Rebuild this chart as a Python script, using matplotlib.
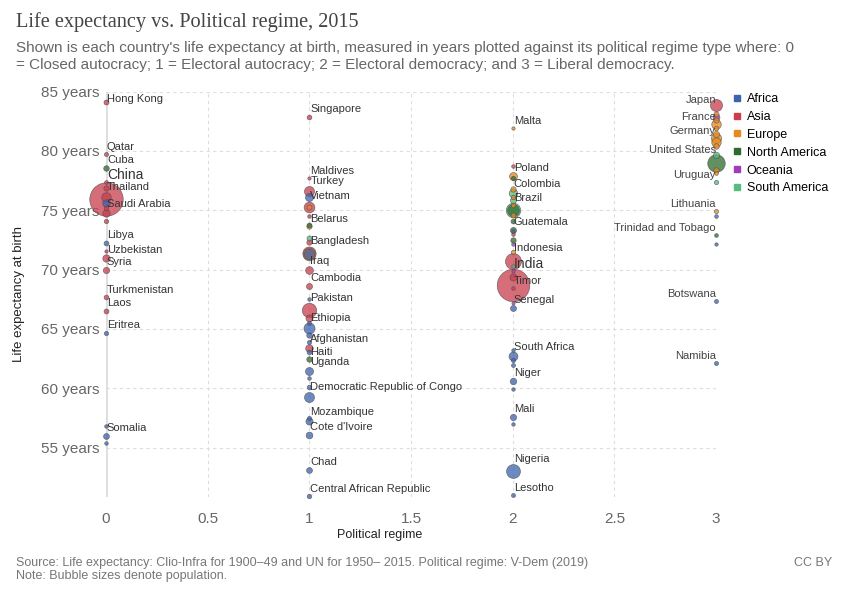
import matplotlib
matplotlib.use("Agg")
import matplotlib.pyplot as plt
from matplotlib.lines import Line2D

# political regime: 0 closed autocracy, 1 electoral autocracy, 2 electoral democracy, 3 liberal democracy
countries = [
    "Hong Kong", "Qatar", "Cuba", "Bahrain", "United Arab Emirates", "China", "Thailand", "Morocco",
    "Oman", "Saudi Arabia", "Kuwait", "Libya", "Brunei", "Uzbekistan", "Syria", "Turkmenistan",
    "Laos", "Eritrea", "Eswatini", "Somalia", "South Sudan",
    "Singapore", "Maldives", "Turkey", "Algeria", "Vietnam", "Serbia", "Jordan", "Belarus",
    "Nicaragua", "Paraguay", "Azerbaijan", "Bangladesh", "Russia", "Egypt", "Iraq", "Cambodia",
    "Djibouti", "Pakistan", "Yemen", "Ethiopia", "Gabon", "Rwanda", "Togo", "Afghanistan", "Congo",
    "Haiti", "Uganda", "Burundi", "Zimbabwe", "Democratic Republic of Congo", "Burkina Faso",
    "Mozambique", "Cote d'Ivoire", "Chad", "Central African Republic",
    "Malta", "Lebanon", "Poland", "Panama", "Hungary", "Colombia", "Croatia", "Ecuador", "Brazil",
    "Mexico", "Romania", "Bulgaria", "El Salvador", "Guatemala", "Tunisia", "Armenia",
    "Dominican Republic", "Fiji", "Moldova", "Indonesia", "India", "Guyana", "Solomon Islands",
    "Nepal", "Timor", "Vanuatu", "Senegal", "Comoros", "South Africa", "Madagascar", "Malawi",
    "Niger", "Liberia", "Mali", "Guinea-Bissau", "Nigeria", "Lesotho",
    "Japan", "Switzerland", "Australia", "Sweden", "France", "Norway", "Netherlands", "Germany",
    "United Kingdom", "Belgium", "Chile", "United States", "Czech Republic", "Estonia", "Uruguay",
    "Lithuania", "Mauritius", "Trinidad and Tobago", "Cape Verde", "Botswana", "Namibia",
]
regime = [0] * 21 + [1] * 35 + [2] * 37 + [3] * 21
life_exp = [
    84.1, 79.75, 78.55, 77.4, 76.85, 75.95, 76.15, 75.65, 75.2, 74.8, 74.1, 72.25, 71.55, 70.95,
    70.0, 67.7, 66.55, 64.7, 56.85, 55.95, 55.4,
    82.9, 77.75, 76.6, 76.1, 75.3, 75.3, 74.5, 73.65, 73.75, 72.65, 72.3, 71.4, 71.3, 71.35,
    69.95, 68.65, 67.5, 66.6, 65.9, 65.05, 65.5, 64.5, 63.9, 63.4, 63.1, 62.45, 61.45, 60.9,
    60.1, 59.3, 57.5, 57.25, 56.05, 53.1, 50.9,
    81.95, 78.75, 77.85, 77.75, 76.8, 76.45, 76.15, 75.9, 75.0, 75.0, 75.45, 74.6, 74.1, 73.3,
    73.25, 73.0, 72.5, 72.15, 71.5, 70.75, 68.7, 70.3, 69.9, 69.4, 68.45, 67.2, 66.8, 63.25,
    62.7, 62.4, 62.0, 60.6, 59.95, 57.55, 57.0, 53.05, 51.05,
    83.85, 83.1, 82.85, 82.6, 82.3, 81.95, 81.4, 81.05, 80.75, 80.4, 79.65, 78.95, 78.4, 78.1,
    77.4, 74.95, 74.55, 72.9, 72.15, 67.35, 62.1,
]
region = [
    "Asia", "Asia", "North America", "Asia", "Asia", "Asia", "Asia", "Africa", "Asia", "Asia",
    "Asia", "Africa", "Asia", "Asia", "Asia", "Asia", "Asia", "Africa", "Africa", "Africa", "Africa",
    "Asia", "Asia", "Asia", "Africa", "Asia", "Europe", "Asia", "Europe", "North America",
    "South America", "Asia", "Asia", "Europe", "Africa", "Asia", "Asia", "Africa", "Asia", "Asia",
    "Africa", "Africa", "Africa", "Africa", "Asia", "Africa", "North America", "Africa", "Africa",
    "Africa", "Africa", "Africa", "Africa", "Africa", "Africa", "Africa",
    "Europe", "Asia", "Europe", "North America", "Europe", "South America", "Europe",
    "South America", "South America", "North America", "Europe", "Europe", "North America",
    "North America", "Africa", "Asia", "North America", "Oceania", "Europe", "Asia", "Asia",
    "South America", "Oceania", "Asia", "Asia", "Oceania", "Africa", "Africa", "Africa", "Africa",
    "Africa", "Africa", "Africa", "Africa", "Africa", "Africa", "Africa",
    "Asia", "Europe", "Oceania", "Europe", "Europe", "Europe", "Europe", "Europe", "Europe",
    "Europe", "South America", "North America", "Europe", "Europe", "South America", "Europe",
    "Africa", "North America", "Africa", "Africa", "Africa",
]
# population in millions
population = [
    7.3, 2.5, 11.3, 1.4, 9.2, 1397, 68, 34, 4.3, 31.5, 3.8, 6.4, 0.4, 31, 18, 5.6, 6.7, 3.3, 1.1,
    13.8, 0.9,
    5.5, 0.4, 78, 40, 93, 7, 1, 9.5, 6.2, 6.6, 9.6, 161, 144, 92, 36, 15.5, 0.9, 199, 27, 100, 2,
    11, 3, 34, 5, 10.7, 40, 1, 5, 76, 3, 28, 23, 14, 4.5,
    0.45, 1, 38, 4, 9.8, 48, 4.2, 16, 205, 125, 5, 7, 6.3, 16, 0.5, 1, 10, 0.9, 3.5, 258, 1310,
    0.8, 0.6, 28, 1.2, 0.3, 15, 0.8, 55, 3, 2, 20, 0.8, 17.5, 0.8, 181, 2.1,
    127, 8.3, 24, 9.8, 66, 5.2, 17, 81, 65, 11, 18, 320, 10.5, 1.3, 3.4, 2.9, 1.3, 1.4, 0.5, 2.2,
    2.4,
]
labelled = [
    "Hong Kong", "Qatar", "Cuba", "China", "Thailand", "Saudi Arabia", "Libya", "Uzbekistan",
    "Syria", "Turkmenistan", "Laos", "Eritrea", "Somalia",
    "Singapore", "Maldives", "Turkey", "Vietnam", "Belarus", "Bangladesh", "Iraq", "Cambodia",
    "Pakistan", "Ethiopia", "Afghanistan", "Haiti", "Uganda", "Democratic Republic of Congo",
    "Mozambique", "Cote d'Ivoire", "Chad", "Central African Republic",
    "Malta", "Poland", "Colombia", "Brazil", "Guatemala", "Indonesia", "India", "Timor",
    "Senegal", "South Africa", "Niger", "Mali", "Nigeria", "Lesotho",
    "Japan", "France", "Germany", "United States", "Uruguay", "Lithuania", "Trinidad and Tobago",
    "Botswana", "Namibia",
]
region_names = ["Africa", "Asia", "Europe", "North America", "Oceania", "South America"]
region_colors = ["#3d63ae", "#c93d4d", "#e8891e", "#2e6b2e", "#a23bb9", "#57bc7e"]
ytick_vals = [55, 60, 65, 70, 75, 80, 85]
xtick_vals = [0, 0.5, 1, 1.5, 2, 2.5, 3]

W, H = 843, 592
fig = plt.figure(figsize=(W / 100, H / 100), dpi=100)
plt.rcParams['font.family'] = ['Liberation Sans', 'DejaVu Sans']

ax = fig.add_axes([106 / W, 1 - 496.7 / H, 610 / W, (496.7 - 91.6) / H])
ax.set_xlim(0, 3)
ax.set_ylim(50.87, 85)
for s in ax.spines.values():
    s.set_visible(False)

for yv in ytick_vals:
    ax.axhline(yv, color="#dddddd", lw=0.8, ls=(0, (3, 3)), zorder=0)
for xv in xtick_vals[1:]:
    ax.axvline(xv, color="#dddddd", lw=0.8, ls=(0, (3, 3)), zorder=0)
ax.axvline(0, color="#dddddd", lw=2, zorder=0)

cmap = dict(zip(region_names, region_colors))
radius = [1.4 + 0.41 * p ** 0.5 for p in population]  # pixels
order = sorted(range(len(countries)), key=lambda i: -population[i])
for i in order:
    ax.scatter(regime[i], life_exp[i], s=(2 * radius[i] * 0.72) ** 2,
               color=cmap[region[i]], alpha=0.75, edgecolors=(0.3, 0.3, 0.3, 0.3),
               linewidths=0.5, clip_on=False, zorder=3)

# labels sit just above the bubble
dy_override = {"Hong Kong": 3.5, "Japan": 5, "France": 7, "Germany": 7, "China": 24}
for i, name in enumerate(countries):
    if name not in labelled:
        continue
    dy = dy_override.get(name, radius[i] + 5) * 0.72
    big = population[i] > 1000
    if regime[i] == 3:
        ax.annotate(name, (regime[i], life_exp[i]), xytext=(0, dy), textcoords="offset points",
                    ha="right", va="center", fontsize=8, color="#444444", zorder=5,
                    annotation_clip=False)
    else:
        ax.annotate(name, (regime[i], life_exp[i]), xytext=(0.7, dy), textcoords="offset points",
                    ha="left", va="center", fontsize=10 if big else 8, color="#333333",
                    zorder=5, annotation_clip=False)

ax.set_yticks(ytick_vals)
ax.set_yticklabels([f"{v} years" for v in ytick_vals])
ax.set_xticks(xtick_vals)
ax.set_xticklabels(["0", "0.5", "1", "1.5", "2", "2.5", "3"])
ax.tick_params(length=0, labelsize=11, labelcolor="#666666")
ax.tick_params(axis="y", pad=4.5)
ax.tick_params(axis="x", pad=11)
ax.set_ylabel("Life expectancy at birth", fontsize=9.5, color="#222222", labelpad=12)
fig.text(380 / W, 1 - 535 / H, "Political regime", fontsize=9, color="#222222",
         ha="center", va="center")

handles = [Line2D([], [], marker="s", ls="", color=c, markersize=5) for c in region_colors]
fig.legend(handles, region_names, loc="upper left", bbox_to_anchor=(733 / W, 1 - 93 / H),
           frameon=False, fontsize=9, handlelength=0.6, handletextpad=0.5, labelspacing=0.47,
           borderpad=0, borderaxespad=0)

fig.text(16 / W, 1 - 22 / H, "Life expectancy vs. Political regime, 2015", fontsize=14.6,
         family=["Liberation Serif"], color="#444444", va="center", ha="left")
fig.text(16 / W, 1 - 48 / H, "Shown is each country's life expectancy at birth, measured in years "
         "plotted against its political regime type where: 0", fontsize=11, color="#666666",
         va="center", ha="left")
fig.text(16 / W, 1 - 65 / H, "= Closed autocracy; 1 = Electoral autocracy; 2 = Electoral "
         "democracy; and 3 = Liberal democracy.", fontsize=11, color="#666666",
         va="center", ha="left")
fig.text(16 / W, 1 - 563 / H, "Source: Life expectancy: Clio-Infra for 1900\u201349 and UN for "
         "1950\u2013 2015. Political regime: V-Dem (2019)", fontsize=9, color="#777777",
         va="center", ha="left")
fig.text(16 / W, 1 - 576 / H, "Note: Bubble sizes denote population.", fontsize=9,
         color="#777777", va="center", ha="left")
fig.text(832 / W, 1 - 563 / H, "CC BY", fontsize=9, color="#777777", va="center", ha="right")

fig.savefig("out.png", dpi=100, facecolor="white")
